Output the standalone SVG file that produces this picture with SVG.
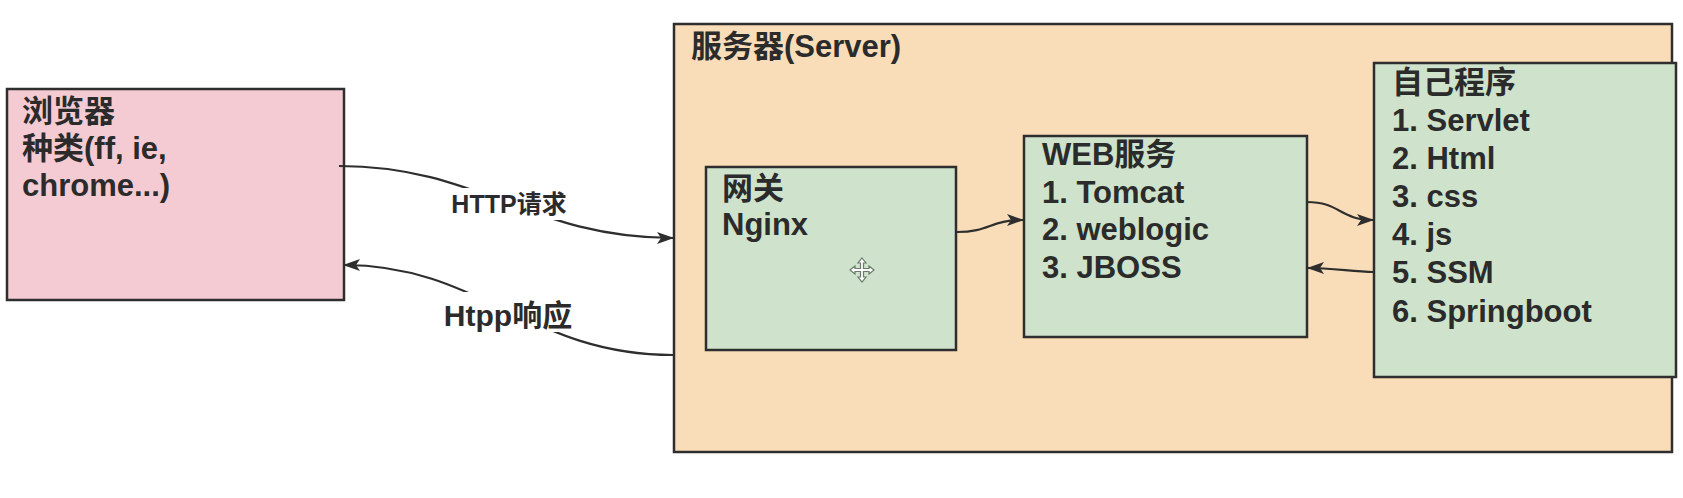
<svg xmlns="http://www.w3.org/2000/svg" width="1683" height="498" viewBox="0 0 1683 498">
<defs>
<style>
.box{stroke:#2e2e2e;stroke-width:2.5}
.t{font-family:"Liberation Sans","Noto Sans CJK SC",sans-serif;font-weight:700;fill:#2b2b2b;font-size:31px}
.lbl{font-family:"Liberation Sans","Noto Sans CJK SC",sans-serif;font-weight:700;fill:#2b2b2b}
.edge{fill:none;stroke:#2e2e2e;stroke-width:2.2}
</style>
<marker id="arr" markerWidth="18" markerHeight="14" refX="16" refY="6" orient="auto" markerUnits="userSpaceOnUse" viewBox="0 0 18 12">
<path d="M0,0 L17,6 L0,12 L4,6 Z" fill="#2e2e2e"/>
</marker>
</defs>
<rect width="1683" height="498" fill="#ffffff"/>

<g id="browser">
<rect class="box" x="7" y="89" width="337" height="211" fill="#F5CBD3"/>
<text class="t"><tspan x="22" y="122">浏览器</tspan><tspan x="22" y="159">种类(ff, ie,</tspan><tspan x="22" y="196">chrome...)</tspan></text>
</g>

<g id="server">
<rect class="box" x="674" y="24" width="998" height="428" fill="#F9DDB9"/>
<text class="t" x="691" y="57">服务器(Server)</text>
</g>

<g id="gateway">
<rect class="box" x="706" y="167" width="250" height="183" fill="#CFE3CC"/>
<text class="t"><tspan x="722" y="199">网关</tspan><tspan x="722" y="235">Nginx</tspan></text>
<g transform="translate(862,270)" fill="#ffffff" stroke="#6a7a6a" stroke-width="1.2">
<path d="M0,-12 L4,-7 L1.5,-7 L1.5,-1.5 L7,-1.5 L7,-4 L12,0 L7,4 L7,1.5 L1.5,1.5 L1.5,7 L4,7 L0,12 L-4,7 L-1.5,7 L-1.5,1.5 L-7,1.5 L-7,4 L-12,0 L-7,-4 L-7,-1.5 L-1.5,-1.5 L-1.5,-7 L-4,-7 Z"/>
</g>
</g>

<g id="web">
<rect class="box" x="1024" y="136" width="283" height="201" fill="#CFE3CC"/>
<text class="t"><tspan x="1042" y="165">WEB服务</tspan><tspan x="1042" y="203">1. Tomcat</tspan><tspan x="1042" y="240">2. weblogic</tspan><tspan x="1042" y="278">3. JBOSS</tspan></text>
</g>

<g id="app">
<rect class="box" x="1374" y="63" width="302" height="314" fill="#CFE3CC"/>
<text class="t"><tspan x="1392" y="93">自己程序</tspan><tspan x="1392" y="131">1. Servlet</tspan><tspan x="1392" y="169">2. Html</tspan><tspan x="1392" y="207">3. css</tspan><tspan x="1392" y="245">4. js</tspan><tspan x="1392" y="283">5. SSM</tspan><tspan x="1392" y="322">6. Springboot</tspan></text>
</g>

<g id="connectors">
<path class="edge" d="M339,166 C480,166 530,238 673,238" marker-end="url(#arr)"/>
<rect x="444" y="188" width="130" height="32" fill="#ffffff"/>
<text class="lbl" x="509" y="213" font-size="25" text-anchor="middle">HTTP请求</text>

<path class="edge" d="M673,355 C530,355 480,265 344,265" marker-end="url(#arr)"/>
<rect x="434" y="292" width="148" height="40" fill="#ffffff"/>
<text class="lbl" x="508" y="326" font-size="30" text-anchor="middle">Htpp响应</text>

<path class="edge" d="M957,232 C990,232 990,220 1023,220" marker-end="url(#arr)"/>
<path class="edge" d="M1307,202 C1340,202 1340,220 1373,220" marker-end="url(#arr)"/>
<path class="edge" d="M1374,272 C1350,271 1330,268 1308,268" marker-end="url(#arr)"/>
</g>
</svg>
